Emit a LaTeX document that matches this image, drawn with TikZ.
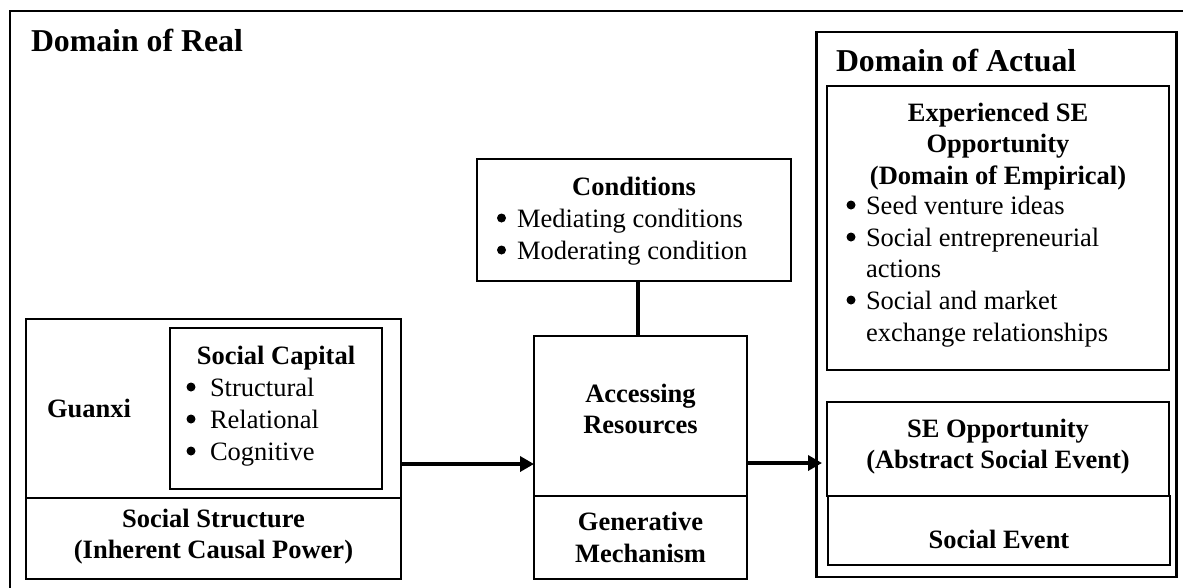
\documentclass[tikz,border=0pt]{standalone}
\usepackage{fontspec}
\setmainfont{Liberation Serif}
\usetikzlibrary{arrows.meta}
\newcommand\bodysize{\fontsize{26.5pt}{31.5pt}\selectfont}
\newcommand\headsize{\fontsize{31.8pt}{38pt}\selectfont}
\tikzset{
  boxframe/.style={draw, line width=2pt, inner sep=0pt, outer sep=0pt},
  txt/.style={anchor=base, inner sep=0pt, outer sep=0pt, font=\bodysize},
  btxt/.style={txt, font=\bodysize\bfseries},
  ltxt/.style={txt, anchor=base west},
  bul/.style={circle, fill=black, inner sep=0pt, outer sep=0pt, minimum size=9pt, yshift=9pt},
  head/.style={anchor=base west, inner sep=0pt, outer sep=0pt, font=\headsize\bfseries},
  arr/.style={line width=3.7pt, -{Triangle[length=14pt,width=15pt]}},
  link/.style={line width=3.7pt},
}
\begin{document}
\begin{tikzpicture}[x=1pt,y=-1pt]
\useasboundingbox (0,0) rectangle (1183,587);
% outer frame, running off the right and bottom edges
\begin{scope}
  \clip (0,0) rectangle (1183,587);
  \draw[line width=2pt] (10,11) rectangle (1250,650);
\end{scope}
\node[head] (realTitle) at (31,51) {Domain of Real};

% conditions
\node[boxframe, minimum width=314, minimum height=122] (cond) at (634,220) {};
\node[btxt] (condT) at (634,195) {Conditions};
\node[bul] (condB1) at (501.5,227) {};
\node[ltxt] (condI1) at (517,227) {Mediating conditions};
\node[bul] (condB2) at (501.5,259) {};
\node[ltxt] (condI2) at (517,259) {Moderating condition};

% accessing resources / generative mechanism
\node[boxframe, minimum width=213, minimum height=160] (accU) at (640.5,416) {};
\node[boxframe, minimum width=213, minimum height=83] (accL) at (640.5,537.5) {};
\node[btxt] (accT1) at (640.5,402) {Accessing};
\node[btxt] (accT2) at (640.5,433) {Resources};
\node[btxt] (genT1) at (640.5,530) {Generative};
\node[btxt] (genT2) at (640.5,562) {Mechanism};

\draw[link] ([xshift=4pt]cond.south) -- ([xshift=4pt]cond.south |- accU.north);

% guanxi / social structure
\node[boxframe, minimum width=375, minimum height=179] (guU) at (213.5,408.5) {};
\node[boxframe, minimum width=375, minimum height=81] (guL) at (213.5,538.5) {};
\node[txt, anchor=base west, font=\bodysize\bfseries] (guT) at (47,417) {Guanxi};
\node[boxframe, minimum width=212, minimum height=161] (sc) at (276,408.5) {};
\node[btxt] (scT) at (276,364) {Social Capital};
\node[bul] (scB1) at (191,396) {};
\node[ltxt] (scI1) at (210,396) {Structural};
\node[bul] (scB2) at (191,428) {};
\node[ltxt] (scI2) at (210,428) {Relational};
\node[bul] (scB3) at (191,460) {};
\node[ltxt] (scI3) at (210,460) {Cognitive};
\node[btxt] (ssT1) at (213.5,527) {Social Structure};
\node[btxt] (ssT2) at (213.5,558) {(Inherent Causal Power)};

% domain of actual
\node[boxframe, line width=2.5pt, minimum width=360, minimum height=545] (act) at (996.5,304.5) {};
\node[head] (actTitle) at (836,71) {Domain of Actual};
\node[boxframe, minimum width=342, minimum height=284] (exp) at (998,228) {};
\node[btxt] (expT1) at (998,121) {Experienced SE};
\node[btxt] (expT2) at (998,152) {Opportunity};
\node[btxt] (expT3) at (998,184) {(Domain of Empirical)};
\node[bul] (expB1) at (851,214) {};
\node[ltxt] (expI1) at (866,214) {Seed venture ideas};
\node[bul] (expB2) at (851,246) {};
\node[ltxt] (expI2) at (866,246) {Social entrepreneurial};
\node[ltxt] (expI2b) at (866,277) {actions};
\node[bul] (expB3) at (851,309) {};
\node[ltxt] (expI3) at (866,309) {Social and market};
\node[ltxt] (expI3b) at (866,341) {exchange relationships};

\node[boxframe, minimum width=342, minimum height=94] (se) at (998,449) {};
\node[btxt] (seT1) at (998,437) {SE Opportunity};
\node[btxt] (seT2) at (998,468) {(Abstract Social Event)};
\node[boxframe, minimum width=342, minimum height=69] (ev) at (999,530.5) {};
\node[btxt] (evT) at (999,548) {Social Event};

% connectors
\coordinate (row) at (0,464);
\coordinate (tip) at (822,463);
\draw[arr] (guU.east |- row) -- (accU.west |- row);
\draw[arr] (accU.east |- tip) -- (tip);
\end{tikzpicture}
\end{document}
